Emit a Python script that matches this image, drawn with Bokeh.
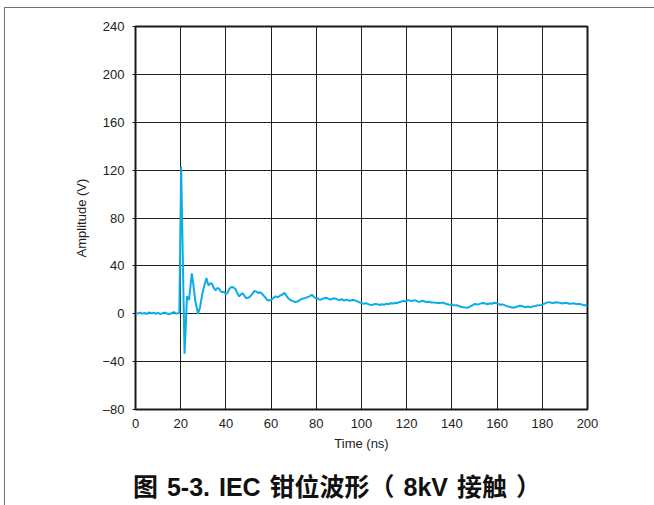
from bokeh.plotting import figure
from bokeh.models import Range1d, FixedTicker, Div
from bokeh.layouts import column
from bokeh.embed import file_html
from bokeh.resources import INLINE

# Clamp voltage trace, 8 kV contact discharge, in three stretches
t_pre = [0, 1, 2, 3, 4, 5, 6, 7, 8, 9, 10, 11, 12, 13, 14, 15, 16, 17, 18, 19, 19.4]
v_pre = [0.5, 0.2, 0.8, 0.1, 0.6, -0.2, 1.2, 0.3, 0.9, 0.0, 0.7, -0.3, 0.5, 1.0,
         0.2, -0.4, 0.6, 1.3, 0.1, 0.4, 0.8]

t_pulse = [20.2, 21.7, 22.8, 23.2, 23.7, 24.9, 25.5, 26.5, 27.7, 28.5, 29.5, 30.5,
           31.4, 32.0, 32.4, 33.0, 33.9, 34.5, 35.4, 36.2, 36.9, 37.6, 38.3, 39.0,
           40.0, 40.6, 41.3, 41.9, 42.8, 43.4, 44.3, 44.8, 45.9, 46.6, 47.4, 48.2,
           49.0, 50.0, 50.8, 51.8, 52.7, 53.5, 54.5, 55.3, 56.0, 57.0, 58.2, 59.0,
           60.0, 60.9, 61.9, 63.0, 64.1, 65.0, 65.9, 66.8, 67.8, 69.0, 70.7, 72.0,
           73.6, 75.0, 76.1, 77.0, 78.0, 79.0]
v_pulse = [123, -33.5, 14.7, 13, 11.5, 33.7, 26, 10, 0, 5, 16, 24,
           29.8, 25, 23.7, 25.5, 25, 22, 19.5, 21.5, 21, 19, 18, 18.5,
           16.7, 17, 20, 21.7, 22.3, 22, 20.5, 18, 14.5, 16, 17.2, 15,
           13, 13.5, 14.5, 17, 19, 18.5, 17.2, 18, 16.7, 14.5, 11.7, 11,
           11.7, 13, 14.5, 13.8, 15.3, 16, 17.5, 15, 12.5, 11, 9.7, 10.5,
           12.5, 13, 13.9, 14.5, 15.9, 14]

t_tail = [80, 80.5, 81, 81.9, 82.5, 83, 84, 84.9, 85.7, 86.5, 87.5, 88.6, 89.5,
          90.5, 91.4, 92.3, 93.2, 94, 94.7, 95.3, 96.3, 97.3, 98.2, 99, 100,
          101, 102, 103, 104, 105, 106, 107, 108, 109, 109.9, 111, 112, 113,
          114, 115, 115.8, 116.7, 117.5, 118.5, 119.3, 120.2, 121, 122, 123,
          124, 125, 126, 126.8, 127.6, 128.7, 130, 131, 132, 133.5, 135, 136,
          137, 138, 139, 140, 140.9, 142, 143, 144, 145, 146, 146.8, 147.6,
          148.5, 149.5, 150.4, 151.2, 152, 153, 154, 155, 156, 157, 157.8,
          158.7, 159.5, 160.5, 161.5, 162.5, 163.5, 164.3, 165, 166.2, 167.4,
          168.2, 169, 170, 171, 171.8, 172.5, 173.6, 174.8, 176, 177, 178,
          179.2, 180, 181, 182, 182.9, 184, 185, 186, 187, 188, 189, 190, 191,
          192, 193, 194, 195, 196, 197, 197.7, 198.4, 199.2, 200]
v_tail = [12.5, 13.2, 12, 11.7, 12.6, 12.5, 13.4, 13, 12.2, 12, 12.9, 12.5, 11.8,
          11.5, 12.2, 11, 11.8, 11.5, 10.8, 11, 11.7, 11, 10.3, 9.5, 9.0,
          8.3, 8.9, 8.0, 7.4, 7.5, 8.2, 8, 7.3, 7.9, 7.5, 8.3, 8, 8.8,
          8.5, 9.2, 8.9, 9.8, 10, 10.8, 10.3, 11, 11.4, 10.5, 11.2,
          11, 10.2, 10, 10.9, 10.5, 9.8, 10, 9.3, 9.5, 9.0, 8.9, 9.4,
          8.5, 8.0, 7.5, 7.8, 7, 7.2, 6.5, 5.9, 5.5, 5.2, 5, 5.8,
          6.5, 7.5, 8.3, 7.6, 8, 8.7, 9, 8.3, 8, 8.8, 8.3,
          9.2, 9, 8.2, 7.5, 7.8, 7, 6.4, 6, 5.4, 5,
          5.6, 6, 6.7, 6.5, 5.8, 5.5, 6.0, 5.5, 6.2, 6.5, 7.2,
          7, 7.6, 8.5, 9.3, 9.7, 9.2, 9, 9.6, 9.5, 8.9, 8.5, 9.1, 9,
          8.4, 8.5, 8.8, 8, 8.3, 8, 7.6, 7, 7.3, 6.5]

time_ns = t_pre + t_pulse + t_tail
amplitude_v = v_pre + v_pulse + v_tail

x_ticks = [0, 20, 40, 60, 80, 100, 120, 140, 160, 180, 200]
y_ticks = [-80, -40, 0, 40, 80, 120, 160, 200, 240]
y_tick_labels = {-80: "\u201380", -40: "\u221240"}

caption = "图 5-3. IEC 钳位波形（ 8kV 接触 ）"

p = figure(
    width=649, height=465,
    x_range=Range1d(0, 200), y_range=Range1d(-80, 240),
    output_backend="svg", toolbar_location=None,
    min_border_left=130, min_border_right=67,
    min_border_top=18, min_border_bottom=64,
)

p.line(time_ns, amplitude_v, line_color="#0AADE8", line_width=2)

p.outline_line_color = "#1a1a1a"
p.outline_line_width = 2
p.outline_line_alpha = 1

for grid in (p.xgrid, p.ygrid):
    grid.grid_line_color = "#1e1e1e"
    grid.grid_line_width = 1
    grid.grid_line_alpha = 1
p.xgrid.ticker = FixedTicker(ticks=x_ticks)
p.ygrid.ticker = FixedTicker(ticks=y_ticks)

xa = p.xaxis[0]
xa.ticker = FixedTicker(ticks=x_ticks)
xa.axis_line_color = None
xa.major_tick_out = 0
xa.major_tick_in = 0
xa.minor_tick_line_color = None
xa.major_label_standoff = 9
xa.axis_label = "Time (ns)"
xa.axis_label_standoff = 5

ya = p.yaxis[0]
ya.ticker = FixedTicker(ticks=y_ticks)
ya.major_label_overrides = y_tick_labels
ya.axis_line_color = None
ya.major_tick_out = 3
ya.major_tick_in = 0
ya.major_tick_line_color = "#1a1a1a"
ya.minor_tick_line_color = None
ya.major_label_standoff = 8
ya.axis_label = "Amplitude (V)"
ya.axis_label_standoff = 10

for ax in (xa, ya):
    ax.major_label_text_font = "Liberation Sans"
    ax.major_label_text_font_size = "13px"
    ax.major_label_text_color = "#222222"
    ax.axis_label_text_font = "Liberation Sans"
    ax.axis_label_text_font_size = "13px"
    ax.axis_label_text_font_style = "normal"
    ax.axis_label_text_color = "#222222"

# Figure caption as a line of text under the plot
cap = Div(
    text=(
        '<div style="padding-left:123px;white-space:nowrap;word-spacing:2px;'
        "font:bold 25px/18px 'Liberation Sans','Noto Sans CJK SC';"
        'color:#111111">' + caption + "</div>"
    ),
    width=649, height=32,
)

layout = column(p, cap, spacing=0)
layout.styles = {
    "margin-left": "4px", "margin-top": "7px",
    "border-top": "1px solid #707070", "border-left": "1px solid #707070",
}

open("out.html", "w").write(file_html(layout, INLINE))
